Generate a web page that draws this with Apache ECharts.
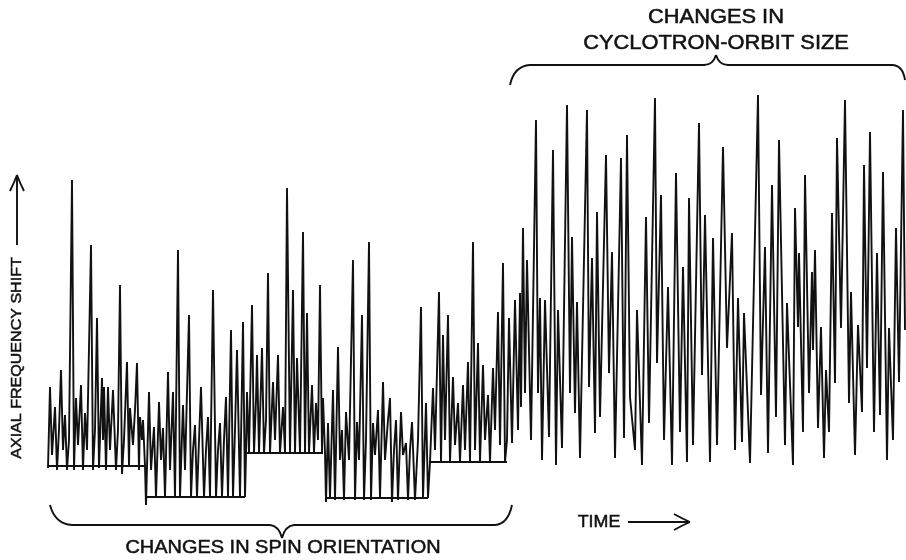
<!DOCTYPE html>
<html><head><meta charset="utf-8">
<script src="https://cdn.jsdelivr.net/npm/echarts@6/dist/echarts.min.js"></script>
<style>html,body{margin:0;padding:0;background:#fff}#c{width:906px;height:560px}</style>
</head><body><div id="c"></div>
<script>
// time (arbitrary units) vs axial frequency shift (arbitrary units)
const spinSeg1 = [[0,32],[2,113],[4,45],[7,93],[9,30],[11,70],[13,130],[15,50],[17,85],[19,30],[21,60],[24,320],[26,30],[28,102],[30,55],[33,115],[35,30],[37,87],[39,50],[43,255],[45,30],[47,70],[49,182],[51,32],[54,122],[55,60],[56,113],[58,30],[60,113],[62,50],[65,110],[68,30],[70,70],[72,215],[74,26],[76,60],[79,138],[81,34],[82,92],[85,55],[87,90],[89,137],[91,30],[92,83],[94,60],[95,80],[97,34],[98,-5]];
const spinSeg2 = [[101,108],[103,30],[106,73],[108,3],[111,98],[113,40],[115,72],[117,3],[120,128],[122,30],[125,108],[127,3],[130,250],[132,3],[135,95],[137,30],[141,185],[143,3],[145,50],[147,75],[149,3],[151,60],[153,113],[156,3],[158,50],[160,83],[162,3],[165,210],[168,3],[170,50],[172,77],[174,3],[176,60],[178,103],[180,3],[183,170],[185,3],[187,70],[189,150],[192,3],[195,178],[197,3]];
const spinSeg3 = [[198,45],[199,108],[201,47],[204,195],[206,47],[208,100],[209,145],[211,47],[214,152],[216,47],[218,80],[220,227],[222,47],[225,118],[227,60],[230,145],[232,47],[235,93],[237,47],[239,312],[242,47],[245,210],[247,47],[249,142],[252,47],[255,268],[257,47],[259,187],[261,47],[264,115],[266,47],[268,97],[270,60],[272,215],[274,47],[275,102],[277,47]];
const spinSeg4 = [[278,-2],[280,77],[282,2],[285,110],[287,0],[290,153],[292,40],[294,70],[296,0],[298,88],[301,40],[305,240],[307,0],[309,78],[311,40],[314,185],[316,0],[318,60],[321,258],[323,0],[325,77],[327,45],[330,90],[332,2],[335,118],[337,40],[340,80],[342,102],[344,-2],[346,50],[348,80],[350,0],[353,88],[355,45],[358,57],[360,0],[362,50],[364,78],[367,0],[370,60],[373,193],[375,2],[378,97],[380,2],[381,0]];
const spinSeg5 = [[382,38],[385,112],[387,50],[391,208],[393,38],[395,165],[397,60],[400,185],[402,38],[405,123],[407,55],[410,97],[412,38],[415,115],[417,50],[420,138],[422,38],[425,258],[427,50],[430,157],[432,38],[435,135],[437,60],[440,105],[442,38],[445,132],[447,70],[450,188],[452,55],[455,237],[457,38],[459,60]];
const orbitTrace = [[461,182],[464,57],[467,200],[470,70],[472,207],[473,93],[475,272],[477,107],[479,240],[483,60],[488,380],[490,107],[492,202],[494,40],[497,200],[501,63],[505,350],[508,35],[510,190],[514,52],[519,395],[522,107],[524,263],[527,87],[529,198],[532,42],[539,390],[541,113],[544,242],[547,67],[549,288],[552,83],[558,345],[561,127],[564,248],[567,42],[573,342],[576,62],[579,365],[582,103],[587,50],[589,190],[594,35],[598,283],[601,77],[607,402],[609,137],[613,305],[616,60],[620,213],[624,35],[628,327],[632,68],[635,233],[639,38],[641,302],[645,55],[651,377],[654,125],[657,285],[662,38],[665,262],[669,55],[675,353],[679,152],[684,267],[687,50],[690,202],[694,58],[696,187],[702,37],[710,405],[713,105],[717,253],[720,47],[724,315],[728,83],[731,360],[737,55],[739,197],[745,35],[747,292],[750,173],[751,247],[755,68],[757,325],[761,107],[764,228],[765,150],[767,250],[770,72],[773,173],[776,42],[778,130],[781,68],[784,287],[787,117],[789,362],[793,172],[797,400],[801,97],[803,208],[807,45],[810,175],[814,88],[816,335],[819,132],[822,368],[826,68],[829,247],[832,85],[835,328],[839,40],[841,172],[845,60],[848,272],[851,118],[855,390],[857,170]];
// spin-state baseline levels
const levelStart = [0, 97, 198, 277, 382];
const levelEnd   = [97, 197, 275, 380, 459];
const levelShift = [34, 3, 47, 2, 38];

const trace = [].concat(spinSeg1, spinSeg2, spinSeg3, spinSeg4, spinSeg5, orbitTrace);
const ink = '#111';
const series = [{
  type: 'line', data: trace, symbol: 'none', silent: true,
  lineStyle: {color: ink, width: 1.9, join: 'miter', miterLimit: 4}
}];
levelStart.forEach((s, i) => {
  series.push({type: 'line', data: [[s, levelShift[i]], [levelEnd[i], levelShift[i]]], symbol: 'none', silent: true,
    lineStyle: {color: ink, width: 2.2}});
});

const font = '"Liberation Sans", Arial, sans-serif';
const txt = (text, x, y, size, sx, extra) => Object.assign({type: 'text', x: x, y: y, scaleX: sx,
  style: {text: text, x: 0, y: 0, fill: ink, stroke: ink, lineWidth: 0.5, font: size + 'px ' + font, textAlign: 'center', textVerticalAlign: 'middle'}}, extra || {});
const strokeStyle = {fill: null, stroke: ink, lineWidth: 1.9};
const ln = (x1, y1, x2, y2) => ({type: 'line', shape: {x1: x1, y1: y1, x2: x2, y2: y2}, style: strokeStyle});
const qc = (x1, y1, cx, cy, x2, y2) => ({type: 'bezierCurve', shape: {x1: x1, y1: y1, cpx1: cx, cpy1: cy, x2: x2, y2: y2}, style: strokeStyle});

const chart = echarts.init(document.getElementById('c'), null, {renderer: 'canvas'});
chart.setOption({
  animation: false,
  backgroundColor: '#fff',
  grid: {left: 48, right: 0, top: 60, bottom: 40},
  xAxis: {type: 'value', min: 0, max: 858, show: false},
  yAxis: {type: 'value', min: -20, max: 440, show: false},
  series: series,
  graphic: [
    txt('CHANGES IN', 716, 18, 19.5, 1.12),
    txt('CYCLOTRON-ORBIT SIZE', 716, 44, 19.5, 1.12),
    txt('CHANGES IN SPIN ORIENTATION', 283, 548, 19, 1.05),
    txt('TIME', 599, 522, 17, 1.05),
    txt('AXIAL FREQUENCY SHIFT', 17, 358, 15, 1.07, {rotation: Math.PI / 2}),
    // top brace
    qc(510, 85, 514, 66, 530, 65), ln(530, 65, 704, 65), qc(704, 65, 713, 65, 716, 55),
    qc(716, 55, 719, 65, 728, 65), ln(728, 65, 893, 65), qc(893, 65, 903, 66, 905, 80),
    // bottom brace
    qc(50, 505, 55, 524, 72, 525), ln(72, 525, 270, 525), qc(270, 525, 279, 526, 282, 538),
    qc(282, 538, 285, 526, 294, 525), ln(294, 525, 495, 525), qc(495, 525, 508, 524, 512, 505),
    // time arrow
    ln(628, 522, 688, 522), qc(674, 514, 683, 519, 690, 522), qc(690, 522, 683, 525, 674, 530),
    // shift arrow
    ln(17, 245, 17, 177), qc(10, 191, 14, 183, 17, 175), qc(17, 175, 20, 183, 24, 191)
  ]
});
</script></body></html>
